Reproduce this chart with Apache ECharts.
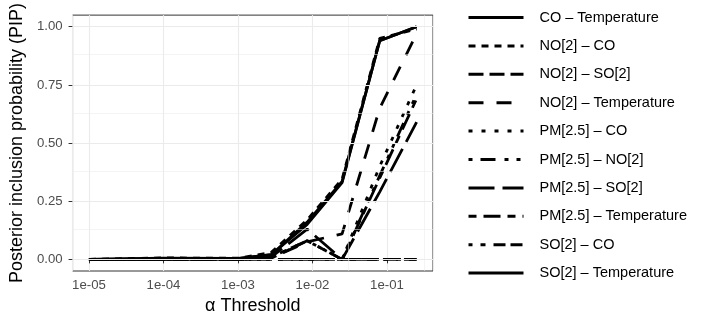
<!DOCTYPE html>
<html>
<head>
<meta charset="utf-8">
<script src="https://cdn.jsdelivr.net/npm/echarts@6/dist/echarts.min.js"></script>
<style>
html, body { margin: 0; padding: 0; background: #fff; }
#chart { width: 706px; height: 324px; }
</style>
</head>
<body>
<div id="chart"></div>
<script>
// alpha thresholds (x) and PIP per pair (y)
var alphas = [1e-5, 1e-4, 1e-3, 0.0028, 0.0085, 0.025, 0.08, 0.25];
var pairNames = ['CO \u2013 Temperature', 'NO[2] \u2013 CO', 'NO[2] \u2013 SO[2]', 'NO[2] \u2013 Temperature',
    'PM[2.5] \u2013 CO', 'PM[2.5] \u2013 NO[2]', 'PM[2.5] \u2013 SO[2]', 'PM[2.5] \u2013 Temperature',
    'SO[2] \u2013 CO', 'SO[2] \u2013 Temperature'];
var pipCoTemp   = [0, 0.005, 0.004, 0.02, 0.15, 0.33, 0.94, 1.00];
var pipNo2Co    = [0, 0.006, 0.005, 0.03, 0.17, 0.345, 0.95, 0.99];
var pipNo2So2   = [0, 0, 0, 0, 0, 0, 0, 0];
var pipNo2Temp  = [0, 0, 0, 0.005, 0.075, 0.11, 0.65, 0.97];
var pipPmCo     = [0, 0, 0, 0.01, 0.08, 0, 0.40, 0.75];
var pipPmNo2    = [0, 0, 0, 0.01, 0.08, 0, 0.36, 0.71];
var pipPmSo2    = [0, 0, 0, 0.01, 0.13, 0, 0.29, 0.59];
var pipPmTemp   = [0, 0, 0, 0.005, 0.08, 0, 0.35, 0.69];
var pipSo2Co    = [0, 0, 0, 0, 0, 0, 0, 0];
var pipSo2Temp  = [0, 0.004, 0.003, 0.02, 0.16, 0.335, 0.94, 1.00];

var yTicks = [0, 0.25, 0.5, 0.75, 1];
var yMinor = [0.125, 0.375, 0.625, 0.875];
var xMinorExp = [-4.5, -3.5, -2.5, -1.5, -0.5];

var allPip = [pipCoTemp, pipNo2Co, pipNo2So2, pipNo2Temp, pipPmCo, pipPmNo2, pipPmSo2, pipPmTemp, pipSo2Co, pipSo2Temp];
var dashes = ['solid', [7, 6], [15, 6], [15, 13], [4, 9], [4, 8, 15, 9, 4, 8],
    [26, 8], [8, 7, 17, 7], [4, 8, 5, 8, 12, 5, 12, 5], 'solid'];

var chart = echarts.init(document.getElementById('chart'));

function pairs(ys) {
    var out = [];
    for (var i = 0; i < alphas.length; i++) out.push([alphas[i], ys[i]]);
    return out;
}

// grid lines drawn as markLines (major y + minor x/y)
var gridLines = [];
yTicks.forEach(function (v) {
    gridLines.push({ yAxis: v, lineStyle: { color: '#ebebeb', width: 1.1, type: 'solid' } });
});
yMinor.forEach(function (v) {
    gridLines.push({ yAxis: v, lineStyle: { color: '#ebebeb', width: 0.55, type: 'solid' } });
});
xMinorExp.forEach(function (e) {
    gridLines.push({ xAxis: Math.pow(10, e), lineStyle: { color: '#ebebeb', width: 0.55, type: 'solid' } });
});

var series = [{
    name: 'grid',
    type: 'line',
    data: [],
    z: 1,
    silent: true,
    markLine: { silent: true, symbol: 'none', animation: false, label: { show: false }, data: gridLines }
}];
for (var i = 0; i < pairNames.length; i++) {
    series.push({
        name: pairNames[i],
        type: 'line',
        z: 3,
        data: pairs(allPip[i]),
        symbol: 'none',
        color: '#000',
        lineStyle: { color: '#000', width: 2.8, type: dashes[i], cap: 'butt' }
    });
}

function expLabel(v) {
    var e = Math.round(Math.log10(v));
    var a = Math.abs(e);
    return '1e' + (e < 0 ? '-' : '+') + (a < 10 ? '0' + a : a);
}

var option = {
    animation: false,
    textStyle: { fontFamily: 'Liberation Sans' },
    grid: {
        left: 67, top: 9, right: 273, bottom: 53,
        show: true, borderColor: '#333', borderWidth: 1, containLabel: false
    },
    legend: {
        orient: 'vertical',
        left: 467, top: 10, padding: 0,
        itemWidth: 55, itemHeight: 14, itemGap: 13.4,
        data: pairNames,
        itemStyle: { opacity: 0 },
        lineStyle: { width: 3 },
        textStyle: { fontSize: 14.5, color: '#000', lineHeight: 14, padding: [0, 0, 0, 11] }
    },
    xAxis: {
        type: 'log',
        logBase: 10,
        min: Math.pow(10, -5.22),
        max: Math.pow(10, -0.382),
        name: '\u03b1 Threshold',
        nameLocation: 'middle',
        nameGap: 26,
        nameTextStyle: { fontSize: 18, color: '#000' },
        axisLine: { show: false },
        axisTick: { show: true, length: 4, lineStyle: { color: '#333' } },
        axisLabel: { fontSize: 13.2, color: '#4d4d4d', margin: 8, showMinLabel: false, showMaxLabel: false, formatter: expLabel },
        splitLine: { show: true, lineStyle: { color: '#ebebeb', width: 1.1 } }
    },
    yAxis: {
        type: 'value',
        min: -0.05,
        max: 1.05,
        name: 'Posterior inclusion probability (PIP)',
        nameLocation: 'middle',
        nameGap: 46,
        nameTextStyle: { fontSize: 18, color: '#000' },
        axisLine: { show: false },
        axisTick: { show: true, length: 4, customValues: yTicks, lineStyle: { color: '#333' } },
        axisLabel: { fontSize: 13.2, color: '#4d4d4d', margin: 10, customValues: yTicks,
            formatter: function (v) { return v.toFixed(2); } },
        splitLine: { show: false }
    },
    series: series
};

chart.setOption(option);
</script>
</body>
</html>
